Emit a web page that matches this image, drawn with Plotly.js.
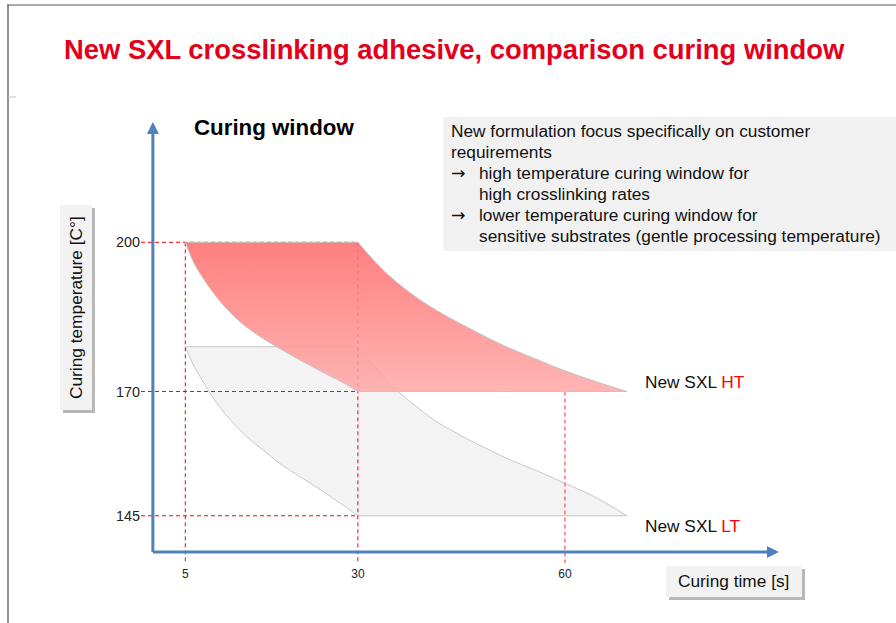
<!DOCTYPE html>
<html><head><meta charset="utf-8">
<script src="https://cdn.plot.ly/plotly-3.0.1.min.js"></script>
<style>html,body{margin:0;padding:0;background:#fff;}#chart{width:896px;height:623px;}</style>
</head><body><div id="chart"></div>
<script>
// ---------- data ----------
const timeTicks = [5, 30, 60];            // curing time [s]
const tempTicks = [145, 170, 200];        // curing temperature [°C]
const guideTemps = [200, 170, 145];       // horizontal guides end at t = 30
const guideTimes = [5, 30, 60];           // vertical guides
const guideTimeTops = [200, 200, 170];

// HT window (red)
const htEdgeX  = [5, 30, 69];             // start, corner, end time
const htEdgeY  = [200, 170];              // top, bottom temperature
const htLeftX  = [5, 6.3, 8.2, 10.1, 12.0, 13.9, 16.3, 18.6, 21.0, 23.4, 25.7, 28.1, 30];
const htLeftY  = [200, 195.7, 191.5, 188.0, 185.2, 182.9, 180.6, 178.7, 176.8, 175.0, 173.3, 171.6, 170];
const htRightX = [30, 31.5, 33.9, 36.4, 38.9, 41.3, 43.8, 46.3, 48.8, 51.2, 53.7, 56.2, 58.6, 61.1, 63.6, 66.0, 69];
const htRightY = [200, 197.6, 194.1, 191.1, 188.5, 186.4, 184.4, 182.6, 180.8, 179.2, 177.7, 176.3, 174.9, 173.6, 172.4, 171.3, 170];
// LT window (grey)
const ltEdgeX  = [5, 30, 69];
const ltEdgeY  = [179, 145];
const ltLeftX  = [5, 6.3, 8.0, 9.6, 11.5, 13.9, 16.3, 18.6, 21.0, 23.4, 25.7, 28.1, 30];
const ltLeftY  = [179, 175.0, 171.0, 167.6, 164.3, 160.9, 158.2, 155.6, 153.4, 151.3, 149.2, 146.9, 145];
const ltRightX = [30, 31.0, 32.2, 34.9, 36.4, 38.9, 41.3, 43.8, 46.3, 48.8, 51.2, 53.7, 56.2, 58.6, 63.6, 66.0, 69];
const ltRightY = [179, 177.3, 175.3, 171.3, 169.3, 166.5, 164.0, 162.0, 160.1, 158.4, 156.8, 155.3, 153.9, 152.4, 149.3, 147.5, 145];

const titleText = 'New SXL crosslinking adhesive, comparison curing window';
const chartTitle = 'Curing window';
const xTitle = 'Curing time [s]';
const yTitle = 'Curing temperature [C°]';
const noteLines = [
  {arrow: false, text: 'New formulation focus specifically on customer'},
  {arrow: false, text: 'requirements'},
  {arrow: true,  text: 'high temperature curing window for'},
  {arrow: false, text: 'high crosslinking rates', indent: true},
  {arrow: true,  text: 'lower temperature curing window for'},
  {arrow: false, text: 'sensitive substrates (gentle processing temperature)', indent: true}
];
const seriesNames = ['New SXL ', 'New SXL '];
const seriesTags = ['HT', 'LT'];

// ---------- layout helpers ----------
const W = 896, H = 623, M = {l: 141, r: 115, t: 120, b: 60};
const PW = W - M.l - M.r, PH = H - M.t - M.b;
const px = x => (x - M.l) / PW;
const py = y => (H - M.b - y) / PH;
const FONT = 'Liberation Sans, Arial, Helvetica, sans-serif';
const xRange = [-1.42, 91.3], yRange = [135.5, 224.6];
const AX_X = 0.3, AX_Y = 137.7;
const BLUE = 'rgb(79,129,189)';
const RED = '#ff0000';

const traces = [];
function windowTraces(edgeX, edgeY, leftX, leftY, rightX, rightY, fillSpec, lineColor) {
  const base = {type: 'scatter', mode: 'lines', hoverinfo: 'skip', showlegend: false};
  const ln = (shape) => ({color: lineColor, width: 1, shape: shape, smoothing: 0.8});
  // part A: between left curve (below) and top edge (above)
  traces.push(Object.assign({}, base, {x: leftX, y: leftY, line: ln('spline')}));
  traces.push(Object.assign({}, base, {x: [edgeX[0], edgeX[1]], y: [edgeY[0], edgeY[0]], line: ln('linear'), fill: 'tonexty'}, fillSpec));
  // part B: between bottom edge (below) and right curve (above)
  traces.push(Object.assign({}, base, {x: [edgeX[1], edgeX[2]], y: [edgeY[1], edgeY[1]], line: ln('linear')}));
  traces.push(Object.assign({}, base, {x: rightX, y: rightY, line: ln('spline'), fill: 'tonexty'}, fillSpec));
}

windowTraces(ltEdgeX, ltEdgeY, ltLeftX, ltLeftY, ltRightX, ltRightY, {fillcolor: '#f3f3f3'}, '#c8c8c8');

guideTemps.forEach(t => traces.push({type: 'scatter', mode: 'lines', x: [xRange[0], guideTimes[1]], y: [t, t],
  line: {color: RED, width: 1, dash: '4px,3px'}, hoverinfo: 'skip', showlegend: false}));
guideTimes.forEach((t, i) => traces.push({type: 'scatter', mode: 'lines', x: [t, t], y: [guideTimeTops[i], yRange[0]],
  line: {color: i === 2 ? '#ff5a5a' : RED, width: i === 2 ? 1.3 : 1, dash: '4px,3px'}, hoverinfo: 'skip', showlegend: false}));

windowTraces(htEdgeX, htEdgeY, htLeftX, htLeftY, htRightX, htRightY,
  {fillgradient: {type: 'vertical', start: htEdgeY[1], stop: htEdgeY[0],
    colorscale: [[0, 'rgba(255,170,170,0.88)'], [1, 'rgba(255,110,110,0.88)']]}}, '#c4c4c4');

const shapes = [
  // slide frame
  {type: 'line', xref: 'paper', yref: 'paper', x0: px(7), x1: px(896), y0: py(5), y1: py(5), line: {color: '#555', width: 1}},
  {type: 'line', xref: 'paper', yref: 'paper', x0: px(8), x1: px(8), y0: py(5), y1: py(623), line: {color: '#555', width: 1.3}},
  {type: 'line', xref: 'paper', yref: 'paper', x0: px(8), x1: px(16), y0: py(97), y1: py(97), line: {color: '#c8c8c8', width: 1}},
  // note box
  {type: 'rect', xref: 'paper', yref: 'paper', x0: px(443), x1: px(896), y0: py(117), y1: py(251), fillcolor: '#f1f1f1', line: {width: 0}, layer: 'below'},
  // y title box + shadow
  {type: 'rect', xref: 'paper', yref: 'paper', x0: px(63), x1: px(95), y0: py(208), y1: py(413), fillcolor: '#b8b8b8', line: {width: 0}},
  {type: 'rect', xref: 'paper', yref: 'paper', x0: px(60), x1: px(92), y0: py(205), y1: py(410), fillcolor: '#f2f2f2', line: {width: 0}},
  // x title box + shadow
  {type: 'rect', xref: 'paper', yref: 'paper', x0: px(669), x1: px(805), y0: py(569), y1: py(600), fillcolor: '#b8b8b8', line: {width: 0}},
  {type: 'rect', xref: 'paper', yref: 'paper', x0: px(666), x1: px(802), y0: py(566), y1: py(597), fillcolor: '#f2f2f2', line: {width: 0}}
];

const annotations = [
  {xref: 'paper', yref: 'paper', x: px(62), y: py(50), xanchor: 'left', yanchor: 'middle', showarrow: false,
   text: titleText, font: {family: FONT, size: 27.4, color: '#e2001a', weight: 700}},
  {xref: 'paper', yref: 'paper', x: px(192), y: py(128), xanchor: 'left', yanchor: 'middle', showarrow: false,
   text: chartTitle, font: {family: FONT, size: 22.3, color: '#000', weight: 700}},
  {xref: 'paper', yref: 'paper', x: px(76), y: py(308), xanchor: 'center', yanchor: 'middle', showarrow: false,
   textangle: -90, text: yTitle, font: {family: FONT, size: 17.3, color: '#111'}},
  {xref: 'paper', yref: 'paper', x: px(733), y: py(581), xanchor: 'center', yanchor: 'middle', showarrow: false,
   text: xTitle, font: {family: FONT, size: 17.3, color: '#111'}},
  // axis arrows
  {xref: 'x', yref: 'y', axref: 'x', ayref: 'y', x: 91.0, y: AX_Y, ax: AX_X - 0.22, ay: AX_Y, text: '', showarrow: true,
   arrowhead: 2, arrowwidth: 3, arrowsize: 0.8, arrowcolor: BLUE, standoff: 0, startstandoff: 0},
  {xref: 'x', yref: 'y', axref: 'x', ayref: 'y', x: AX_X, y: 224.2, ax: AX_X, ay: AX_Y - 0.3, text: '', showarrow: true,
   arrowhead: 2, arrowwidth: 3, arrowsize: 0.8, arrowcolor: BLUE, standoff: 0, startstandoff: 0},
  // series labels
  {xref: 'x', yref: 'y', x: 71.3, y: 171.9, xanchor: 'left', yanchor: 'middle', showarrow: false,
   text: seriesNames[0] + '<span style="color:' + RED + '">' + seriesTags[0] + '</span>', font: {family: FONT, size: 17.3, color: '#111'}},
  {xref: 'x', yref: 'y', x: 71.3, y: 142.9, xanchor: 'left', yanchor: 'middle', showarrow: false,
   text: seriesNames[1] + '<span style="color:' + RED + '">' + seriesTags[1] + '</span>', font: {family: FONT, size: 17.3, color: '#111'}}
];

noteLines.forEach((ln, i) => {
  const yy = 131 + i * 21;
  if (ln.arrow) annotations.push({xref: 'paper', yref: 'paper', x: px(449), y: py(yy), xanchor: 'left', yanchor: 'middle',
    showarrow: false, text: '→', font: {family: 'DejaVu Sans, sans-serif', size: 17.3, color: '#111'}});
  annotations.push({xref: 'paper', yref: 'paper', x: px((ln.arrow || ln.indent) ? 477 : 449), y: py(yy), xanchor: 'left', yanchor: 'middle',
    showarrow: false, text: ln.text, font: {family: FONT, size: 17.3, color: '#111'}});
});

const layout = {
  width: W, height: H, margin: M, paper_bgcolor: '#fff', plot_bgcolor: 'rgba(0,0,0,0)',
  showlegend: false, font: {family: FONT},
  xaxis: {range: xRange, tickvals: timeTicks, ticktext: timeTicks.map(String), showgrid: false, zeroline: false,
    showline: false, ticks: '', ticklabelstandoff: 2, tickfont: {family: FONT, size: 12, color: '#222'}, fixedrange: true},
  yaxis: {range: yRange, tickvals: tempTicks, ticktext: tempTicks.map(String), showgrid: false, zeroline: false,
    showline: false, ticks: '', tickfont: {family: FONT, size: 14.4, color: '#222'}, fixedrange: true},
  shapes, annotations
};

Plotly.newPlot('chart', traces, layout, {displayModeBar: false, staticPlot: true});
</script></body></html>
